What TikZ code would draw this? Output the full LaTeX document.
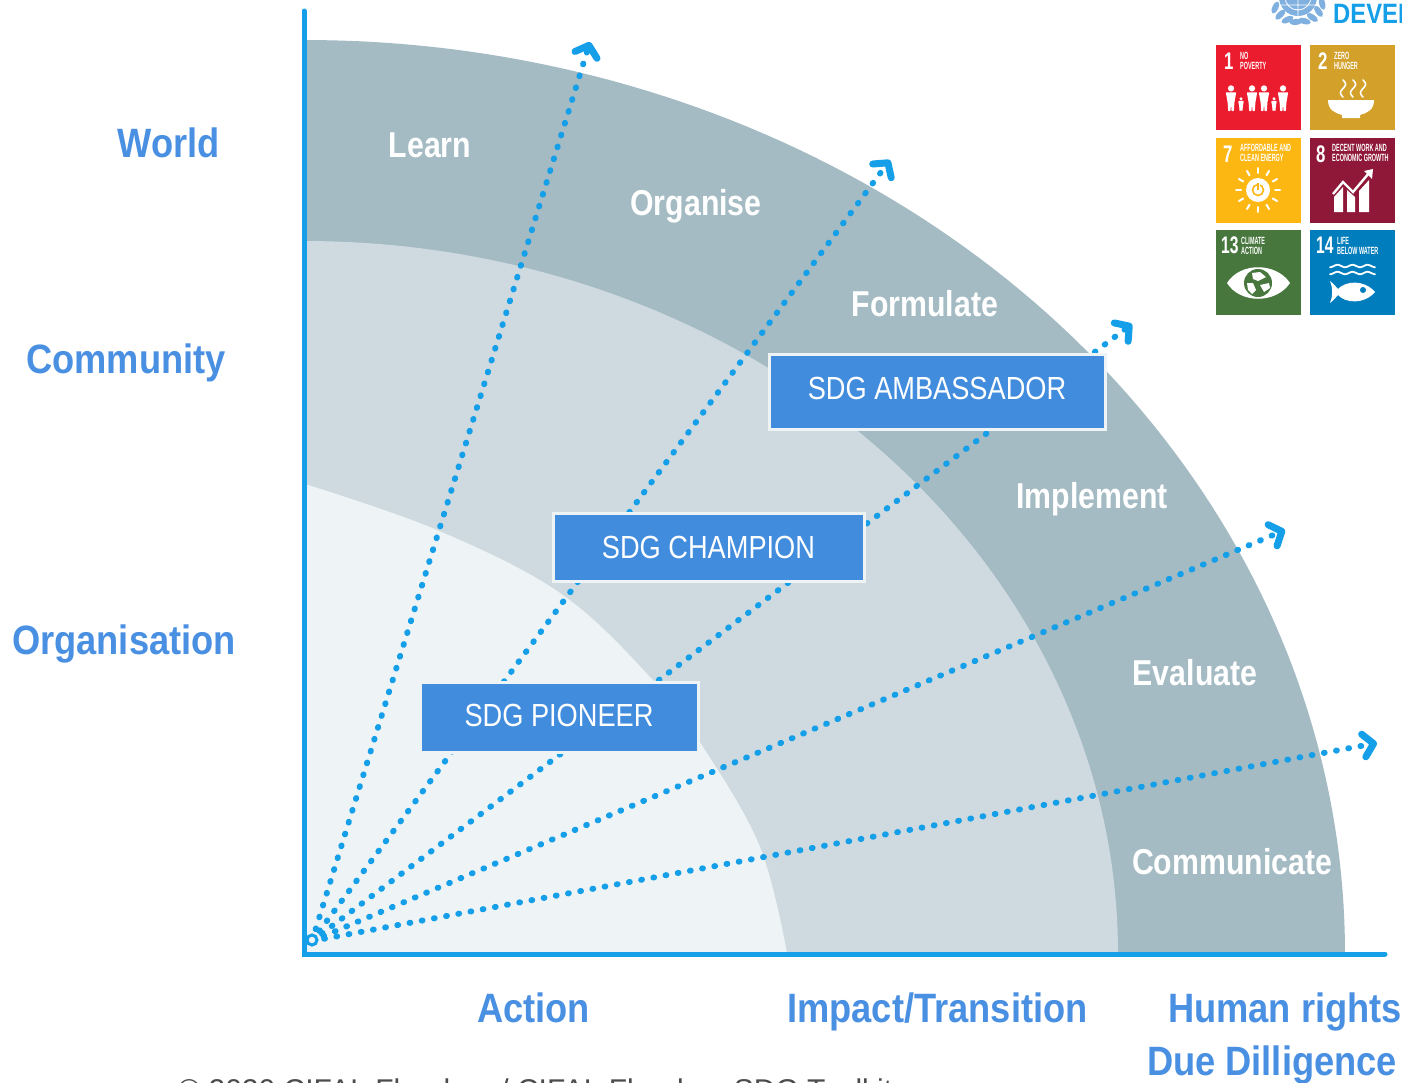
\documentclass[tikz,border=0pt]{standalone}
\usepackage{graphicx}
\usepackage{fontspec}
\setmainfont{Liberation Sans}
\usetikzlibrary{arrows.meta}
\definecolor{axisblue}{HTML}{149FE8}
\definecolor{labelblue}{HTML}{4A90E2}
\definecolor{boxblue}{HTML}{418CDD}
\definecolor{ringa}{HTML}{A4BBC4}
\definecolor{ringb}{HTML}{CEDAE0}
\definecolor{ringc}{HTML}{EEF3F6}
\definecolor{sdgred}{HTML}{EB1C2D}
\definecolor{sdggold}{HTML}{D3A029}
\definecolor{sdgyellow}{HTML}{FDB713}
\definecolor{sdgmaroon}{HTML}{8F1838}
\definecolor{sdggreen}{HTML}{48773E}
\definecolor{sdgblue}{HTML}{007DBC}
\definecolor{unblue}{HTML}{7FB0E0}
\newcommand\sq[2]{\scalebox{#1}[1]{#2}}
\newcommand\fsz[1]{\fontsize{#1}{#1}\selectfont}
% figure of a person: x, top y, height
\newcommand\pers[3]{%
  \fill[white] (#1,#2+.13*#3) circle ({.12*#3});
  \fill[white,rounded corners=.6pt] ({#1-.2*#3},#2+.28*#3) -- ({#1+.2*#3},#2+.28*#3) -- ({#1+.13*#3},#2+.68*#3) -- ({#1+.11*#3},#2+#3) -- ({#1+.02*#3},#2+#3) -- (#1,#2+.72*#3) -- ({#1-.02*#3},#2+#3) -- ({#1-.11*#3},#2+#3) -- ({#1-.13*#3},#2+.68*#3) -- cycle;}
\tikzset{
  x=1pt,y=-1pt,
  axisline/.style={draw=axisblue,line width=5pt,line cap=round},
  dotline/.style={draw=axisblue,line width=6pt,line cap=round,dash pattern=on 0.8pt off 11.6pt,
    -{Straight Barb[length=10pt,width=23pt,line width=7pt,round]}},
  rolebox/.style={draw=ringc,line width=3pt,fill=boxblue,text=white,inner sep=0pt,font=\fsz{32},text height=23pt,text depth=0pt},
  axislabel/.style={text=labelblue,font=\fsz{41}\bfseries,inner sep=0pt,text height=29.9pt,text depth=0pt},
  steplabel/.style={text=white,font=\fsz{36}\bfseries,inner sep=0pt,text height=26.2pt,text depth=0pt},
  tile/.style={inner sep=0pt,minimum width=85pt,minimum height=85pt,anchor=north west},
  tilenum/.style={text=white,font=\fsz{24}\bfseries,inner sep=0pt,anchor=base west},
  tiletext/.style={text=white,font=\fsz{10.5}\bfseries,inner sep=0pt,anchor=base west},
  iconline/.style={draw=white,line width=2pt,line cap=round},
}
\begin{document}
\begin{tikzpicture}
\path[use as bounding box,fill=white] (0,0) rectangle (1402,1082);
\clip (0,0) rectangle (1402,1082);
% rings
\fill[ringa] plot[domain=0:90,samples=90] ({305+1040*cos(\x)},{953-913*sin(\x)}) -- (305,953) -- cycle;
\fill[ringb] plot[domain=0:90,samples=90] ({305+813*cos(\x)},{953-712*sin(\x)}) -- (305,953) -- cycle;
\fill[ringc] plot[smooth,tension=.6] coordinates {(787,953) (760,847) (703,747) (650,677) (560,593) (437,530) (305,484)} -- (305,953) -- cycle;
% origin and arrow ends
\coordinate (O) at (312,941);
\coordinate (a1) at (590,42);
\coordinate (a2) at (890,160);
\coordinate (a3) at (1132,324);
\coordinate (a4) at (1285,530);
\coordinate (a5) at (1377,743);
\foreach \e in {a1,a2,a3,a4,a5} \draw[dotline] (O) -- (\e);
\draw[draw=axisblue,fill=ringc,line width=3pt] (312,940) circle (5);
% axes
\coordinate (ytop) at (304,11);
\coordinate (corner) at (304,954);
\coordinate (xend) at (1385,954);
\draw[axisline] (ytop) -- (corner) -- (xend);
% role boxes
\node[rolebox,minimum width=278pt,minimum height=70pt] (pioneer) at (559,717) {\raisebox{2pt}{\sq{.85}{SDG PIONEER}}};
\node[rolebox,minimum width=311pt,minimum height=68pt] (champion) at (708.5,547) {\sq{.85}{SDG CHAMPION}};
\node[rolebox,minimum width=336pt,minimum height=75pt] (ambassador) at (937,391.5) {\raisebox{3.5pt}{\sq{.85}{SDG AMBASSADOR}}};
% step labels
\node[steplabel] (learn) at (430,144) {\sq{.84}{Learn}};
\node[steplabel] (organise) at (696,202) {\sq{.84}{Organise}};
\node[steplabel] (formulate) at (925,303) {\sq{.84}{Formulate}};
\node[steplabel] (implement) at (1092,495) {\sq{.84}{Implement}};
\node[steplabel] (evaluate) at (1195,672) {\sq{.84}{Evaluate}};
\node[steplabel] (communicate) at (1232,861) {\sq{.84}{Communicate}};
% axis labels
\node[axislabel] (world) at (169,143) {\sq{.885}{World}};
\node[axislabel] (community) at (126,359) {\sq{.885}{Community}};
\node[axislabel] (organisation) at (124,640) {\sq{.885}{Organisation}};
\node[axislabel] (action) at (533.5,1008) {\sq{.885}{Action}};
\node[axislabel] (impact) at (937.5,1008) {\sq{.885}{Impact/Transition}};
\node[axislabel] (human) at (1285,1008) {\sq{.885}{Human rights}};
\node[axislabel] (due) at (1272,1061) {\sq{.885}{Due Dilligence}};
% clipped source line
\node[anchor=base west,inner sep=0pt,text=black!70,font=\fsz{30}] (source) at (178,1100.5) {© 2020 CIFAL Flanders / CIFAL Flanders SDG Toolkit};
% UN emblem and clipped title
\begin{scope}
\foreach \a in {15,35,...,165} {
  \fill[unblue,rotate around={\a:({1298+25*cos(\a)},{-3+25*sin(\a)})}] ({1298+25*cos(\a)},{-3+25*sin(\a)}) ellipse (3 and 6.5);
}
\fill[unblue] (1298,-3) circle (19);
\draw[white,line width=.8pt] (1298,-3) circle (13) (1298,-22) -- (1298,16) (1280,5) -- (1316,5);
\end{scope}
\node[anchor=base west,inner sep=0pt,text=axisblue,font=\fsz{28}\bfseries] (devel) at (1333,23) {\sq{.85}{DEVELOPMENT}};
% SDG tiles
\node[tile,fill=sdgred] (t1) at (1216,45) {};
\node[tile,fill=sdggold] (t2) at (1310,45) {};
\node[tile,fill=sdgyellow] (t7) at (1216,138) {};
\node[tile,fill=sdgmaroon] (t8) at (1310,138) {};
\node[tile,fill=sdggreen] (t13) at (1216,230) {};
\node[tile,fill=sdgblue] (t14) at (1310,230) {};
% tile 1
\node[tilenum] at (1224,69) {\sq{.7}{1}};
\node[tiletext] at (1240,59) {\sq{.52}{NO}};
\node[tiletext] at (1240,69) {\sq{.52}{POVERTY}};
\pers{1231}{85}{26}
\pers{1241}{97}{14}
\pers{1252}{85}{26}
\pers{1264}{85}{26}
\pers{1274}{97}{14}
\pers{1283}{85}{26}
% tile 2
\node[tilenum] at (1318,69) {\sq{.7}{2}};
\node[tiletext] at (1334,59) {\sq{.52}{ZERO}};
\node[tiletext] at (1334,69) {\sq{.52}{HUNGER}};
\foreach \c in {1343,1353,1363}
  \draw[iconline,line width=1.6pt] plot[domain=0:1,samples=20] ({\c+2.5*sin(360*\x)},{80+17*\x});
\fill[white] (1328,100) -- (1374,100) .. controls (1374,110) and (1367,113) .. (1360,115) -- (1360,118) -- (1342,118) -- (1342,115) .. controls (1335,113) and (1328,110) .. (1328,100) -- cycle;
% tile 7
\node[tilenum] at (1223,162) {\sq{.7}{7}};
\node[tiletext] at (1240,151) {\sq{.52}{AFFORDABLE AND}};
\node[tiletext] at (1240,161) {\sq{.52}{CLEAN ENERGY}};
\foreach \a in {0,30,...,330}
  \draw[iconline] ({1258+17*cos(\a)},{190+17*sin(\a)}) -- ({1258+22*cos(\a)},{190+22*sin(\a)});
\fill[white] (1258,190) circle (12);
\draw[sdgyellow,line width=1.6pt] (1258,190) circle (5.5);
\draw[white,line width=3pt] (1258,186) -- (1258,183);
\draw[sdgyellow,line width=1.5pt] (1258,190) -- (1258,183);
% tile 8
\node[tilenum] at (1316,162) {\sq{.7}{8}};
\node[tiletext] at (1332,151) {\sq{.52}{DECENT WORK AND}};
\node[tiletext] at (1332,161) {\sq{.52}{ECONOMIC GROWTH}};
\fill[white] (1334,197) -- (1343,187) -- (1343,212) -- (1334,212) -- cycle;
\fill[white] (1347,190) -- (1355,197) -- (1355,212) -- (1347,212) -- cycle;
\fill[white] (1359,191) -- (1369,180) -- (1369,212) -- (1359,212) -- cycle;
\draw[white,line width=2.4pt] (1333,194) -- (1343,182) -- (1353,192) -- (1369,173);
\fill[white] (1373,169) -- (1372,179) -- (1364,171) -- cycle;
% tile 13
\node[tilenum] at (1221,253) {\sq{.65}{13}};
\node[tiletext] at (1241,244) {\sq{.52}{CLIMATE}};
\node[tiletext] at (1241,254) {\sq{.52}{ACTION}};
\fill[white] (1227,283) .. controls (1240,262) and (1276,262) .. (1290,283) .. controls (1276,304) and (1240,304) .. (1227,283) -- cycle;
\fill[sdggreen] (1258,283) circle (14);
\fill[white] (1252,273) -- (1260,272) -- (1266,277) -- (1258,281) -- (1253,279) -- cycle;
\fill[white] (1247,283) -- (1253,283) -- (1256,290) -- (1252,294) -- (1248,290) -- cycle;
\fill[white] (1260,285) -- (1269,283) -- (1270,288) -- (1264,292) -- cycle;
% tile 14
\node[tilenum] at (1316,253) {\sq{.65}{14}};
\node[tiletext] at (1337,244) {\sq{.52}{LIFE}};
\node[tiletext] at (1337,254) {\sq{.52}{BELOW WATER}};
\foreach \w in {266,273}
  \draw[iconline,line width=1.8pt] plot[domain=0:3,samples=45] ({1330+15*\x},{\w+1.2*cos(360*\x)});
\fill[white] (1330,281) .. controls (1334,284) and (1336,287) .. (1338,289) .. controls (1345,281) and (1364,279) .. (1375,292) .. controls (1364,305) and (1345,303) .. (1338,295) .. controls (1336,297) and (1334,300) .. (1330,303) .. controls (1333,296) and (1333,288) .. (1330,281) -- cycle;
\fill[sdgblue] (1363,290) circle (3);
\end{tikzpicture}
\end{document}
